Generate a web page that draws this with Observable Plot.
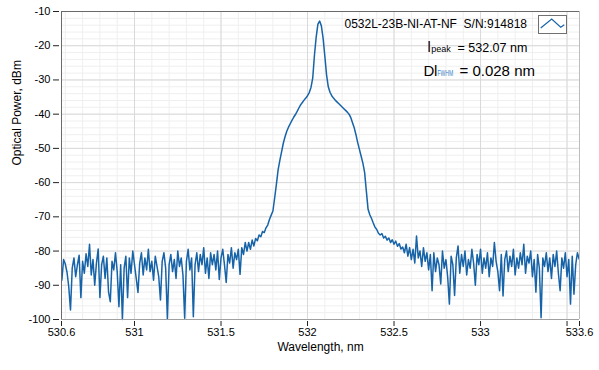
<!DOCTYPE html>
<html><head><meta charset="utf-8">
<script src="https://cdn.jsdelivr.net/npm/d3@7"></script>
<script src="https://cdn.jsdelivr.net/npm/@observablehq/plot@0.6"></script>
<style>body{margin:0;background:#fff}</style>
</head><body><div id="chart"></div>
<script>
// Spectrum samples (nm grid start/step) and measured optical power (dBm)
const wavelengthStart = 530.58;
const wavelengthStep = 0.01;
const power = [
  -88.5,-82.5,-83.8,-86.2,-90.5,-97.2,-85,-82,-87.5,-84,
  -81.2,-93.6,-83,-86.5,-80.8,-84.5,-78,-87,-82.5,-90,
  -83.5,-79.4,-93.6,-84,-81.5,-88,-82,-92,-94.8,-83,
  -85.5,-80.5,-86,-96.3,-84,-100,-85,-81.5,-93.6,-82,
  -86.5,-80,-84,-88,-92.1,-83.5,-80.5,-87,-82,-85.5,
  -79.5,-86,-83,-88.5,-81.5,-84.5,-87.5,-94.3,-83,-80.5,
  -85,-99.8,-84,-81,-86,-82.5,-88,-80,-84.5,-82,
  -87,-99.6,-83,-79.5,-85.5,-82,-99.2,-84,-80.5,-86,
  -81,-84,-79,-86.5,-82,-88,-80.5,-84,-81,-85.5,
  -80,-88.3,-82,-79.5,-84,-89.2,-81,-83.5,-79,-85,
  -80.5,-82.5,-79.5,-86.8,-79,-81,-77.5,-80,-77.5,-79.5,
  -76.8,-78.5,-76.3,-77,-75.3,-75.8,-74.3,-74.6,-73.2,-72.4,
  -70.8,-69.5,-68.3,-64.5,-60.5,-56.3,-53.5,-51,-48.5,-46.6,
  -45,-43.8,-42.8,-41.8,-40.9,-40.1,-39.2,-38.2,-37.3,-36.6,
  -35.9,-35.3,-34.6,-33.7,-32.2,-29.5,-22.8,-17.5,-13.7,-12.8,
  -14.2,-17.8,-23,-28.5,-32,-33.6,-34.6,-35.3,-35.9,-36.4,
  -36.9,-37.4,-37.9,-38.4,-38.9,-39.4,-40,-41,-42.5,-44,
  -46,-48.3,-50.3,-52.3,-54.3,-57,-62.5,-67.8,-69.4,-70.5,
  -71.8,-73,-73.7,-74.8,-75.3,-74.9,-76.2,-75.7,-76.8,-76.2,
  -77.5,-76.7,-78,-77.1,-78.6,-77.8,-79.4,-78.8,-80.5,-78,
  -81.5,-79,-82.5,-79.5,-83.5,-75.6,-82,-80,-84.5,-79,
  -83,-80.5,-85.5,-81,-91.6,-80.5,-86,-82,-84,-89.6,
  -80,-85,-82.5,-87.5,-95.5,-81.5,-84,-93,-82,-78.5,
  -86.5,-81,-84.5,-80,-87,-82.5,-85,-79.5,-83.5,-90,
  -81,-84,-79.5,-86.5,-82,-85,-80.5,-87.5,-82,-84.5,
  -77.5,-83,-86,-91.6,-81,-93.1,-82.5,-80,-86,-81.5,
  -84.5,-79.5,-87,-82,-85,-80.5,-84,-78,-86.5,-81.5,
  -83.5,-80,-87.5,-82.5,-92,-81,-85,-99.5,-82,-84.5,
  -80.5,-86,-82,-88,-81,-84.5,-80,-86.5,-91.6,-82,
  -85,-80.5,-87.5,-82.5,-95.5,-81.5,-92.6,-84,-80.5,-82.3
];

const xDomain = [530.578, 533.572];
const yDomain = [-100, -10];
const xTickValues = [530.578, 531, 531.5, 532, 532.5, 533, 533.5, 533.572];
const xTickLabels = ["530.6", "531", "531.5", "532", "532.5", "533", "", "533.6"];
const xMajorGrid = [531, 531.5, 532, 532.5, 533, 533.5];
const xMinorGrid = d3.range(5306, 5336).map(d => d / 10);
const yTickValues = [-10, -20, -30, -40, -50, -60, -70, -80, -90, -100];
const yTickLabels = ["-10", "-20", "-30", "-40", "-50", "-60", "-70", "-80", "-90", "-100"];
const yMinorGrid = d3.range(-98, -10, 2);

const xLabel = "Wavelength, nm";
const yLabel = "Optical Power, dBm";
const seriesLabel = "0532L-23B-NI-AT-NF  S/N:914818";
const peakText = ["l", "peak", "= 532.07 nm"];
const fwhmText = ["D", "l", "FWHM", "= 0.028 nm"];

const lineColor = "#1763a8";

const data = power.map((p, i) => ({wl: wavelengthStart + i * wavelengthStep, p}));

const plot = Plot.plot({
  width: 599,
  height: 370,
  marginTop: 11,
  marginBottom: 51,
  marginLeft: 61,
  marginRight: 20,
  x: {domain: xDomain},
  y: {domain: yDomain},
  style: {fontFamily: "'Liberation Sans', Arial, sans-serif", fontSize: "11px", background: "#fff", color: "#000", overflow: "visible"},
  marks: [
    Plot.gridX({ticks: xMinorGrid, stroke: "#efefef", strokeOpacity: 1}),
    Plot.gridY({ticks: yMinorGrid, stroke: "#efefef", strokeOpacity: 1}),
    Plot.gridX({ticks: xMajorGrid, stroke: "#d9d9d9", strokeOpacity: 1}),
    Plot.gridY({ticks: yTickValues, stroke: "#d9d9d9", strokeOpacity: 1}),
    Plot.line(data, {x: "wl", y: "p", stroke: lineColor, strokeWidth: 1.5}),
    Plot.ruleX([xDomain[1]], {stroke: "#bdbdbd"}),
    Plot.ruleY([yDomain[0]], {stroke: "#a0a0a0"}),
    Plot.ruleX([xDomain[0]], {stroke: "#6a6a6a"}),
    Plot.ruleY([yDomain[1]], {stroke: "#6a6a6a"}),
    Plot.axisX({ticks: xTickValues, tickFormat: d => xTickLabels[xTickValues.indexOf(d)], tickSize: 5, tickPadding: 2, dy: 2, label: null, stroke: "#222"}),
    Plot.axisY({ticks: yTickValues, tickFormat: d => yTickLabels[yTickValues.indexOf(d)], tickSize: 6, tickPadding: 3, dx: -2, label: null, stroke: "#222"}),
    Plot.text([xLabel], {frameAnchor: "bottom", dy: 31, fontSize: 12}),
    Plot.text([yLabel], {frameAnchor: "left", dx: -44, rotate: -90, fontSize: 12})
  ]
});

const svg = d3.select(plot);
const g = svg.append("g")
  .attr("font-family", "'Liberation Sans', Arial, sans-serif")
  .attr("fill", "#000")
  .attr("text-anchor", "start");
g.append("text").attr("x", 527).attr("y", 28).attr("text-anchor", "end")
  .attr("font-size", 12).style("white-space", "pre").text(seriesLabel);
g.append("rect").attr("x", 538.5).attr("y", 15.5).attr("width", 28).attr("height", 18)
  .attr("fill", "#fff").attr("stroke", "#707070");
g.append("polyline").attr("points", "540.7,28 551.7,19 560.7,27.3 564.3,24.7")
  .attr("fill", "none").attr("stroke", lineColor).attr("stroke-width", 1.2);

const t1 = g.append("text").attr("y", 52).attr("text-anchor", "start");
t1.append("tspan").attr("x", 427.5).attr("font-size", 14.5).text(peakText[0]);
t1.append("tspan").attr("x", 431.3).attr("font-size", 9).text(peakText[1]);
t1.append("tspan").attr("x", 457.5).attr("font-size", 12.5).text(peakText[2]);

const t2 = g.append("text").attr("y", 76).attr("text-anchor", "start");
t2.append("tspan").attr("x", 423.5).attr("font-size", 15).text(fwhmText[0]);
t2.append("tspan").attr("x", 434).attr("font-size", 15).text(fwhmText[1]);
g.append("text").attr("transform", "translate(437.5,76) scale(0.56,1)")
  .attr("font-size", 9).attr("fill", "#3d7fc9").text(fwhmText[2]);
g.append("text").attr("x", 459.5).attr("y", 76).attr("font-size", 15).text(fwhmText[3]);

document.getElementById("chart").appendChild(plot);
</script>
</body></html>
